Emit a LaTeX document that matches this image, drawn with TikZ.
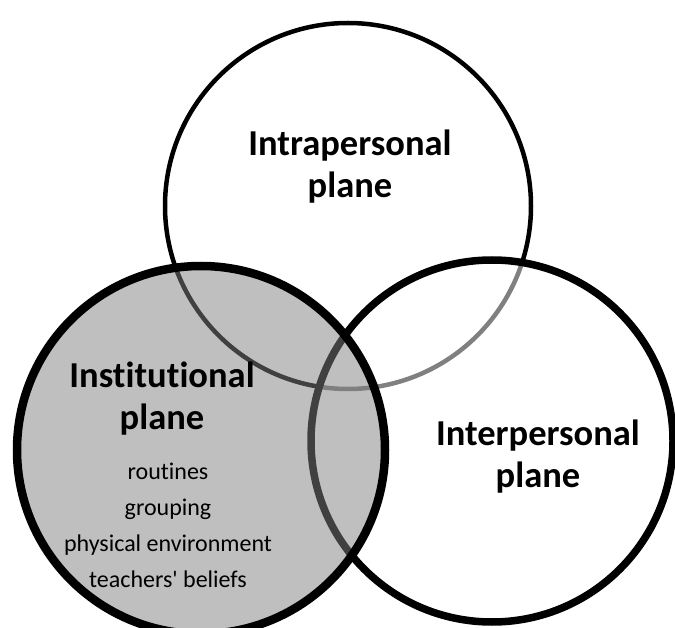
\documentclass[tikz,border=0pt]{standalone}
\usepackage{fontspec}
\setmainfont{Carlito}[Ligatures=NoCommon]

\begin{document}
\begin{tikzpicture}[x=1pt,y=-1pt,
    plane/.style={font=\bfseries\fontsize{36.5}{42}\selectfont,align=center,inner sep=0pt},
    item/.style={font=\fontsize{24}{36}\selectfont,align=center,inner sep=0pt}]
    \useasboundingbox (0,0) rectangle (675,628);

    %circles
    \draw[line width=4.5pt] (348,206) circle (183pt);
    \draw[line width=7.5pt,fill=white,fill opacity=0.5] (492,441) circle (181pt);
    \draw[line width=8.5pt,fill=gray,fill opacity=0.5] (201,450) circle (184pt);

    %labels
    \node[plane] (intra) at (350,167) {Intrapersonal\\plane};
    \node[plane] (inter) at (538,457) {Interpersonal\\plane};
    \node[plane] (inst) at (162,399) {Institutional\\plane};
    \node[item] (instlist) at (168,525) {routines\\grouping\\physical environment\\teachers\textquotesingle{} beliefs};
\end{tikzpicture}
\end{document}
